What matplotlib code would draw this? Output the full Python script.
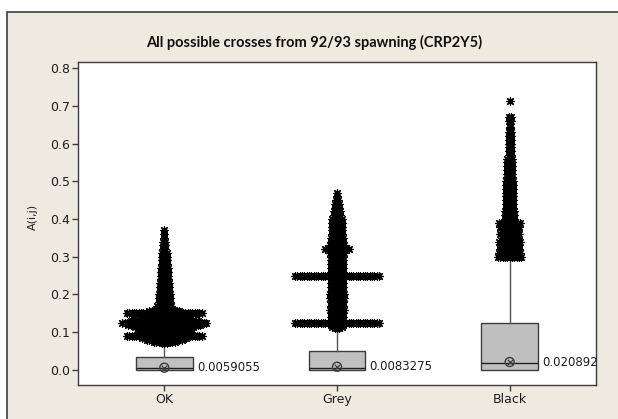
import matplotlib
matplotlib.use("Agg")
import matplotlib.pyplot as plt
from matplotlib.patches import Rectangle
import numpy as np

plt.rcParams['font.family'] = ['DejaVu Sans']

# == DATA =================================================================== #
groups = ['OK', 'Grey', 'Black']
means = [0.0059055, 0.0083275, 0.020892]
mean_labels = ['0.0059055', '0.0083275', '0.020892']
q1 = [0.0, 0.0, 0.0]
medians = [0.004, 0.006, 0.018]
q3 = [0.033, 0.049, 0.124]
whis_hi = [0.068, 0.110, 0.300]

# outlier levels and how many tied points sit on each level
ok_out_vals = [0.070, 0.075, 0.080, 0.085, 0.090, 0.095, 0.100, 0.105, 0.110,
               0.115, 0.120, 0.125, 0.130, 0.135, 0.140, 0.145, 0.150, 0.155,
               0.160, 0.170, 0.180, 0.190, 0.200, 0.210, 0.220, 0.230, 0.240,
               0.250, 0.260, 0.270, 0.280, 0.290, 0.300, 0.310, 0.320, 0.330,
               0.340, 0.350, 0.360, 0.370]
ok_out_cnt = [3, 10, 16, 20, 33, 22, 23, 23, 24,
              26, 32, 37, 30, 22, 18, 20, 33, 14,
              9, 7, 6, 6, 6, 5, 5, 5, 4,
              4, 4, 4, 3, 3, 3, 3, 2, 2,
              2, 1, 1, 1]

grey_out_vals = [0.110, 0.115, 0.120, 0.125, 0.130, 0.140, 0.150, 0.160, 0.170,
                 0.180, 0.190, 0.200, 0.210, 0.220, 0.230, 0.240, 0.250, 0.260,
                 0.270, 0.280, 0.290, 0.300, 0.310, 0.320, 0.330, 0.340, 0.350,
                 0.360, 0.370, 0.380, 0.390, 0.400, 0.410, 0.420, 0.430, 0.440,
                 0.450, 0.460, 0.470]
grey_out_cnt = [3, 5, 6, 37, 6, 6, 6, 7, 6,
                6, 7, 7, 6, 6, 6, 6, 37, 6,
                6, 6, 6, 6, 7, 11, 7, 6, 6,
                5, 5, 5, 5, 5, 4, 4, 3, 3,
                2, 1, 1]

black_out_vals = [0.300, 0.310, 0.320, 0.330, 0.340, 0.350, 0.360, 0.370, 0.380,
                  0.390, 0.400, 0.410, 0.420, 0.430, 0.440, 0.450, 0.460, 0.470,
                  0.480, 0.490, 0.500, 0.510, 0.520, 0.530, 0.540, 0.550, 0.560,
                  0.570, 0.580, 0.590, 0.600, 0.610, 0.620, 0.630, 0.640, 0.645,
                  0.660, 0.670, 0.712]
black_out_cnt = [11, 10, 9, 9, 10, 8, 9, 8, 9,
                 10, 5, 5, 5, 4, 4, 4, 4, 4,
                 4, 4, 4, 3, 3, 3, 3, 3, 3,
                 2, 2, 2, 2, 2, 2, 2, 1, 1,
                 2, 2, 1]

out_vals = [ok_out_vals, grey_out_vals, black_out_vals]
out_cnt = [ok_out_cnt, grey_out_cnt, black_out_cnt]

# == FIGURE ================================================================= #
BG = '#EEEAE0'
EDGE = '#3C3C3C'
fig = plt.figure(figsize=(6.18, 4.19), dpi=100, facecolor='white')
fig.patches.append(Rectangle((7/618, -0.1), 1.2, 1.1 - 12/419,
                             transform=fig.transFigure, facecolor=BG,
                             edgecolor=EDGE, lw=1.2, zorder=-10))

ax = fig.add_axes([78/618, 34/419, (596-78)/618, (385-62)/419])
ax.set_facecolor('white')
pos = [1, 2, 3]

stats = []
for i in range(3):
    stats.append(dict(med=medians[i], q1=q1[i], q3=q3[i], whislo=q1[i],
                      whishi=whis_hi[i], fliers=[], label=groups[i]))
ax.bxp(stats, positions=pos, widths=0.33, showfliers=False, showcaps=False,
       patch_artist=True,
       boxprops=dict(facecolor='#C0C0C0', edgecolor=EDGE, lw=1.0),
       medianprops=dict(color='#1E1E1E', lw=1.0),
       whiskerprops=dict(color='#555555', lw=1.0))

# Outliers: tied values spread side by side
dx = 0.0135
for i in range(3):
    xs, ys = [], []
    for v, n in zip(out_vals[i], out_cnt[i]):
        off = (np.arange(n) - (n - 1) / 2.0) * dx
        xs.extend(pos[i] + off)
        ys.extend([v] * n)
    ax.scatter(xs, ys, marker=(8, 2, 0), s=30, c='black', linewidths=0.9,
               zorder=3)

# Mean symbols and labels
ax.scatter(pos, means, marker='o', s=42, facecolors='none', edgecolors=EDGE,
           linewidths=1.0, zorder=4)
ax.scatter(pos, means, marker='x', s=16, c=EDGE, linewidths=0.9, zorder=4)
for i in range(3):
    ax.annotate(mean_labels[i], xy=(pos[i] + 0.165, means[i]), xytext=(3, 0),
                textcoords='offset points', va='center', ha='left',
                fontsize=8.5, color='#1E1E1E')

# Axes styling
ax.set_xlim(0.5, 3.5)
ax.set_ylim(-0.04, 0.816)
ax.set_yticks([0.0, 0.1, 0.2, 0.3, 0.4, 0.5, 0.6, 0.7, 0.8])
ax.set_yticklabels(['%.1f' % t for t in ax.get_yticks()])
ax.set_xticks(pos)
ax.set_xticklabels(groups)
ax.tick_params(direction='out', length=4, width=1, color=EDGE,
               labelsize=9, labelcolor='#1E1E1E', pad=2)
for sp in ax.spines.values():
    sp.set_color(EDGE)
    sp.set_linewidth(1.0)

fig.text(33/618, (419-217)/419, 'A(i,j)', rotation=90, ha='center',
         va='center', fontsize=8, color='#1E1E1E')
fig.text(314/618, (419-42)/419, 'All possible crosses from 92/93 spawning (CRP2Y5)',
         ha='center', va='center', fontsize=10.5, fontweight='bold',
         family='Lato', color='#111111')

fig.savefig('out.png', dpi=100, facecolor=fig.get_facecolor())
